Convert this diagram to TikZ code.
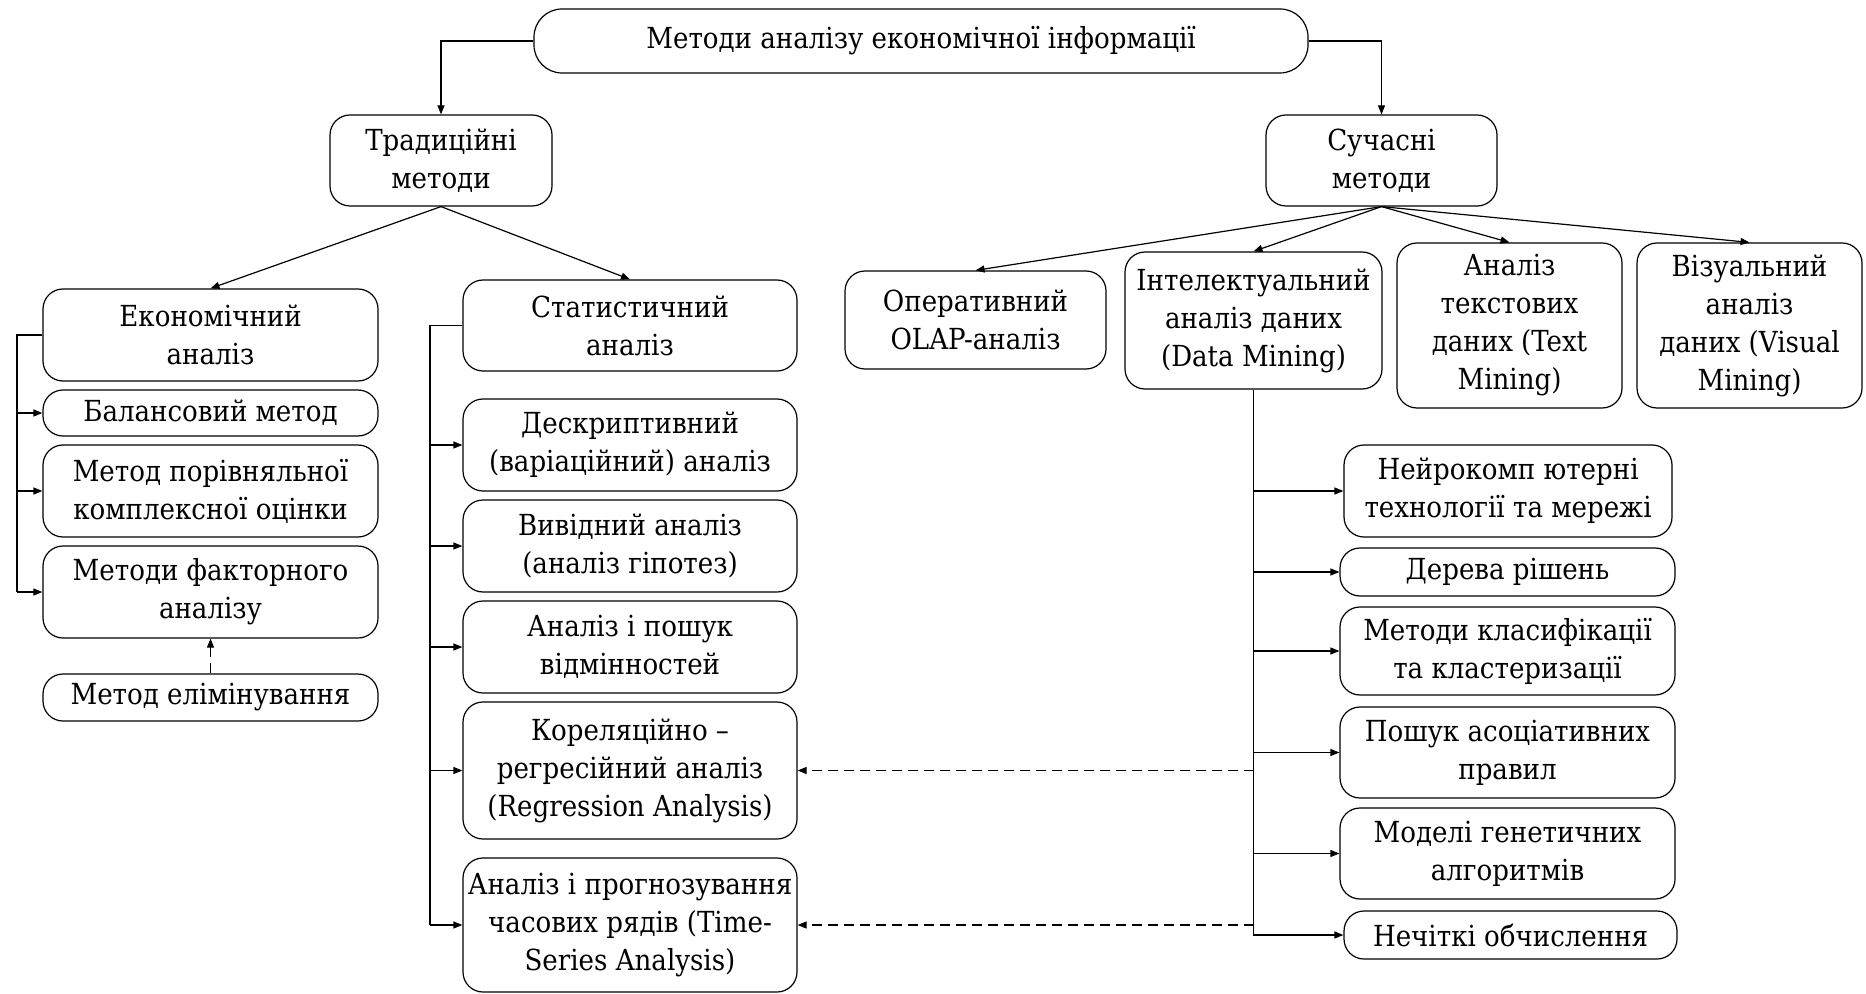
\documentclass[tikz,border=0pt]{standalone}
\usepackage{fontspec}
\setmainfont{DejaVu Serif Condensed}
\usetikzlibrary{arrows.meta}
\begin{document}
\begin{tikzpicture}[x=0.5pt,y=-0.5pt,
  box/.style={draw, rounded corners=10pt, align=center, inner sep=1pt,
    line width=0.6pt, font=\rmfamily\fontsize{14.5}{19}\selectfont},
  sz/.style n args={2}{minimum width=#1, minimum height=#2},
  conn/.style={line width=0.6pt, -{Triangle[length=4.5pt,width=3.5pt]}},
  link/.style={line width=0.6pt},
  dlink/.style={line width=0.6pt, dash pattern=on 5pt off 3pt,
    -{Triangle[length=4.5pt,width=3.5pt]}}]
\useasboundingbox (0,0) rectangle (1866,994);

% root and two main groups
\node[box, rounded corners=14pt, sz={387pt}{32pt}] (root) at (921,41)
  {Методи аналізу економічної інформації};
\node[box, sz={111pt}{45.5pt}] (trad) at (441,160.5) {Традиційні\\методи};
\node[box, sz={115.5pt}{45.5pt}] (modern) at (1381.5,160.5) {Сучасні\\методи};

% traditional branch
\node[box, sz={167.5pt}{46pt}] (eco) at (210.5,335) {Економічний\\аналіз};
\node[box, sz={167pt}{45.5pt}] (stat) at (630,325.5) {Статистичний\\аналіз};

\node[box, sz={167.5pt}{23pt}] (bal) at (210.5,413) {Балансовий метод};
\node[box, sz={167.5pt}{46pt}] (por) at (210.5,491) {Метод порівняльної\\комплексної оцінки};
\node[box, sz={167.5pt}{46pt}] (fak) at (210.5,592) {Методи факторного\\аналізу};
\node[box, sz={167.5pt}{23.5pt}] (elim) at (210.5,697.5) {Метод елімінування};

\node[box, sz={167pt}{46pt}] (desc) at (630,445) {Дескриптивний\\(варіаційний) аналіз};
\node[box, sz={167pt}{46pt}] (viv) at (630,546) {Вивідний аналіз\\(аналіз гіпотез)};
\node[box, sz={167pt}{46pt}] (posh) at (630,647) {Аналіз і пошук\\відмінностей};
\node[box, sz={167pt}{68.5pt}] (korr) at (630,770.5) {Кореляційно –\\регресійний аналіз\\(Regression Analysis)};
\node[box, sz={167pt}{67pt}] (prog) at (630,925) {Аналіз і прогнозування\\часових рядів (Time-\\Series Analysis)};

% modern branch
\node[box, sz={130.5pt}{49pt}] (olap) at (975.5,320) {Оперативний\\OLAP-аналіз};
\node[box, sz={128.5pt}{68.5pt}] (dm) at (1253.5,320.5) {Інтелектуальний\\аналіз даних\\(Data Mining)};
\node[box, sz={112.5pt}{82.5pt}] (txt) at (1509.5,325.5) {Аналіз\\текстових\\даних (Text\\Mining)};
\node[box, sz={112.5pt}{82.5pt}] (vis) at (1749.5,325.5) {Візуальний\\аналіз\\даних (Visual\\Mining)};

\node[box, sz={164pt}{46pt}] (neiro) at (1508,491) {Нейрокомп ютерні\\технології та мережі};
\node[box, sz={167.5pt}{24pt}] (der) at (1507.5,572) {Дерева рішень};
\node[box, sz={167.5pt}{44pt}] (klas) at (1507.5,651) {Методи класифікації\\та кластеризації};
\node[box, sz={167.5pt}{45.5pt}] (asoc) at (1507.5,752.5) {Пошук асоціативних\\правил};
\node[box, sz={167.5pt}{45.5pt}] (gen) at (1507.5,853.5) {Моделі генетичних\\алгоритмів};
\node[box, sz={166.5pt}{24pt}] (nech) at (1510.5,935) {Нечіткі обчислення};

% bus lines
\coordinate (ebus) at (17,592);
\coordinate (sbus) at (430,925);
\coordinate (dbus) at (1253.5,936);

% root to groups
\draw[conn] (root.west) -| (trad.north);
\draw[conn] (root.east) -| (modern.north);

% traditional subgroups
\draw[conn] (trad.south) -- (eco.north);
\draw[conn] (trad.south) -- (stat.north);

% modern subgroups
\draw[conn] (modern.south) -- (olap.north);
\draw[conn] (modern.south) -- (dm.north);
\draw[conn] (modern.south) -- (txt.north);
\draw[conn] (modern.south) -- (vis.north);

% economic analysis methods
\draw[link] (eco.west) -- (eco.west -| ebus) -- (ebus);
\foreach \n in {bal,por,fak}
  \draw[conn] (\n.west -| ebus) -- (\n.west);
\draw[dlink] (elim.north) -- (fak.south);

% statistical analysis methods
\draw[link] (stat.west) -- (stat.west -| sbus) -- (sbus);
\foreach \n in {desc,viv,posh,korr,prog}
  \draw[conn] (\n.west -| sbus) -- (\n.west);

% data mining methods
\draw[link] (dm.south) -- (dbus);
\foreach \n in {neiro,der,klas,asoc,gen,nech}
  \draw[conn] (\n.west -| dbus) -- (\n.west);

% cross links
\draw[dlink] (korr.east -| dbus) -- (korr.east);
\draw[dlink] (prog.east -| dbus) -- (prog.east);
\end{tikzpicture}
\end{document}
